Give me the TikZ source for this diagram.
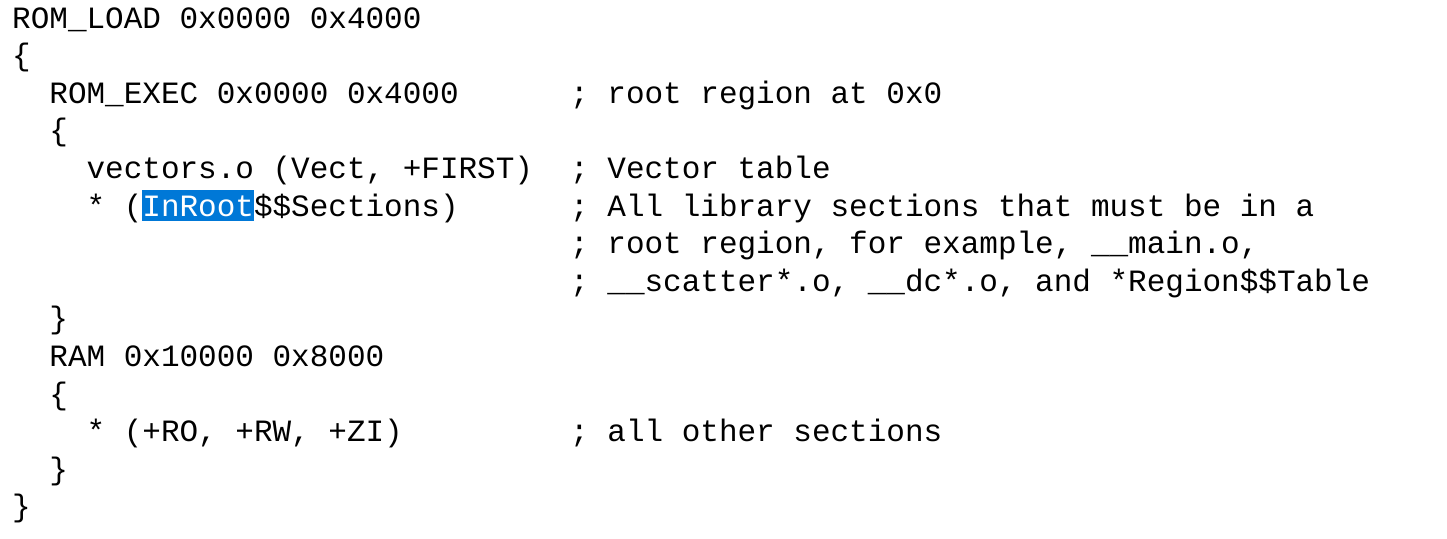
\documentclass[tikz,border=0pt]{standalone}
\usepackage{fontspec}
\setmonofont{Liberation Mono}
\tikzset{
  code/.style={anchor=base west,inner sep=0pt,font=\fontsize{31}{31}\selectfont\ttfamily},
  selbox/.style={code,fill={rgb,255:red,0;green,120;blue,215},text=white,inner ysep=5pt}
}
% column c, line l
\newcommand{\cp}[2]{({12+18.6*#1},{-(28+37.6*#2)})}
\begin{document}
\begin{tikzpicture}[x=1pt,y=1pt]
  \useasboundingbox[fill=white] (0,0) rectangle (1447,-538);
  \node[code] (load)   at \cp{0}{0}  {ROM\_LOAD 0x0000 0x4000};
  \node[code] (ob1)    at \cp{0}{1}  {\{};
  \node[code] (exec)   at \cp{2}{2}  {ROM\_EXEC 0x0000 0x4000};
  \node[code] (cexec)  at \cp{30}{2} {; root region at 0x0};
  \node[code] (ob2)    at \cp{2}{3}  {\{};
  \node[code] (vect)   at \cp{4}{4}  {vectors.o (Vect, +FIRST)};
  \node[code] (cvect)  at \cp{30}{4} {; Vector table};
  \node[code] (star1)  at \cp{4}{5}  {* (};
  \node[selbox] (inroot) at \cp{7}{5}  {InRoot};
  \node[code] (sect)   at \cp{13}{5} {\$\$Sections)};
  \node[code] (clib1)  at \cp{30}{5} {; All library sections that must be in a};
  \node[code] (clib2)  at \cp{30}{6} {; root region, for example, \_\_main.o,};
  \node[code] (clib3)  at \cp{30}{7} {; \_\_scatter*.o, \_\_dc*.o, and *Region\$\$Table};
  \node[code] (cb2)    at \cp{2}{8}  {\}};
  \node[code] (ram)    at \cp{2}{9}  {RAM 0x10000 0x8000};
  \node[code] (ob3)    at \cp{2}{10} {\{};
  \node[code] (star2)  at \cp{4}{11} {* (+RO, +RW, +ZI)};
  \node[code] (cother) at \cp{30}{11} {; all other sections};
  \node[code] (cb3)    at \cp{2}{12} {\}};
  \node[code] (cb1)    at \cp{0}{13} {\}};
\end{tikzpicture}
\end{document}
